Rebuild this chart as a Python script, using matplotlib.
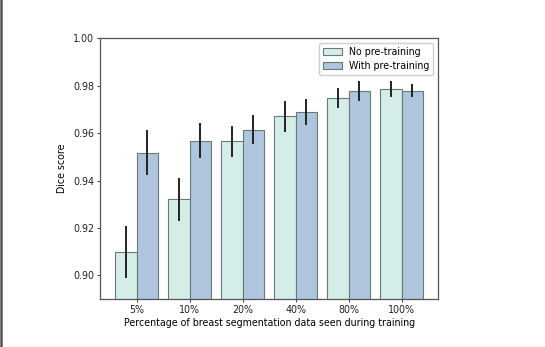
import numpy as np
import matplotlib.pyplot as plt
from matplotlib.lines import Line2D

fractions = ['5%', '10%', '20%', '40%', '80%', '100%']
no_pretrain = [0.910, 0.932, 0.9566, 0.9671, 0.9747, 0.9787]
no_pretrain_err = [0.0109, 0.0091, 0.0065, 0.0066, 0.0043, 0.0034]
with_pretrain = [0.9518, 0.9567, 0.9615, 0.9689, 0.9779, 0.9779]
with_pretrain_err = [0.0096, 0.0074, 0.0063, 0.0056, 0.0042, 0.0028]

plt.rcParams['font.size'] = 6.85


def plotDice():
    fig = plt.figure(figsize=(5.45, 3.47), dpi=100)
    ax = fig.add_axes([0.1835, 0.138, 0.6205, 0.752])

    x = np.arange(len(fractions))
    w = 0.4
    ax.bar(x - w / 2, no_pretrain, w, yerr=no_pretrain_err, color='#d5ede8',
           edgecolor='#6a7878', linewidth=0.8, label='No pre-training',
           error_kw=dict(ecolor='#222222', elinewidth=1.4))
    ax.bar(x + w / 2, with_pretrain, w, yerr=with_pretrain_err, color='#afc5de',
           edgecolor='#6a7878', linewidth=0.8, label='With pre-training',
           error_kw=dict(ecolor='#222222', elinewidth=1.4))

    ax.set_ylim(0.89, 1.0)
    ax.set_yticks([0.90, 0.92, 0.94, 0.96, 0.98, 1.00])
    ax.set_xticks(x)
    ax.set_xticklabels(fractions)
    ax.set_xlabel('Percentage of breast segmentation data seen during training', labelpad=2)
    ax.set_ylabel('Dice score')
    ax.tick_params(length=2.3, width=0.6, colors='#222222', pad=2)
    for s in ax.spines.values():
        s.set_color('#555555')
        s.set_linewidth(0.9)
    ax.legend(loc='upper right', framealpha=1, edgecolor='#d0d0d0',
              handlelength=2.0, borderpad=0.4, labelspacing=0.45)

    # thin border on the left edge of the canvas
    fig.add_artist(Line2D([0.002, 0.002], [0, 1], color='#555555', lw=1.8,
                          transform=fig.transFigure))

    plt.savefig('out.png', dpi=100)


if __name__ == '__main__':
    plotDice()
